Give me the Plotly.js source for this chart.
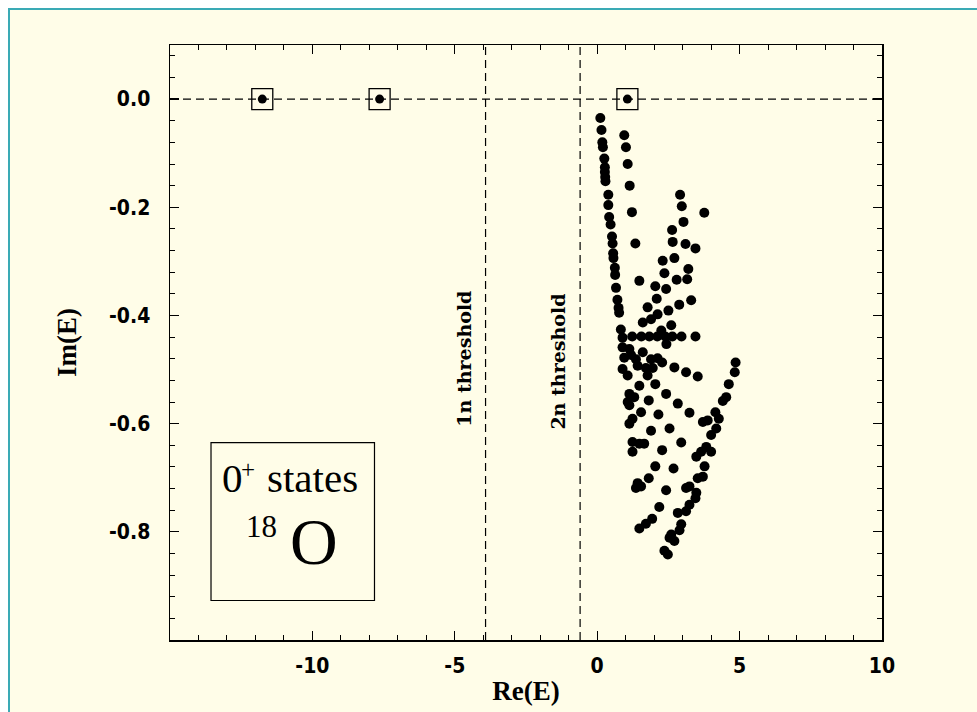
<!DOCTYPE html>
<html>
<head>
<meta charset="utf-8">
<script src="https://cdn.plot.ly/plotly-3.0.1.min.js"></script>
<style>
  html, body { margin: 0; padding: 0; background: #ffffff; width: 977px; height: 712px; overflow: hidden; }
  #wrap { position: absolute; left: 8px; top: 8px; width: 969px; height: 704px;
          border-left: 2px solid #3aaab5; border-top: 2px solid #3aaab5; background: #fffde8; }
  #chart { position: absolute; left: 0; top: 0; width: 967px; height: 702px; }
</style>
</head>
<body>
<div id="wrap"><div id="chart"></div></div>
<script>
// Resonance states (Re(E), Im(E))
const reE = [
  0.11,0.15,0.18,0.20,0.25,0.27,0.27,0.28,0.29,0.39,0.39,0.42,0.47,
  0.95,1.01,1.07,1.14,1.22,
  2.91,2.97,3.03,3.76,
  0.52,0.54,0.56,0.57,0.62,0.63,0.66,0.71,0.75,0.77,0.83,0.89,
  1.34,1.48,
  2.63,2.65,3.10,3.45,2.71,2.30,2.36,3.20,2.79,3.16,2.04,2.42,2.09,3.30,2.88,1.77,2.50,2.12,1.89,1.60,2.60,2.25,
  1.23,1.55,1.83,2.11,2.39,2.64,2.96,3.45,
  2.43,0.89,1.13,0.95,1.19,1.60,1.36,1.89,2.12,2.28,2.71,3.12,3.53,0.89,1.07,1.42,1.71,1.95,1.77,1.48,
  1.13,1.07,1.13,1.30,2.04,2.42,1.81,2.83,3.24,2.15,1.54,1.24,1.13,1.89,2.54,2.95,1.24,1.48,1.24,1.65,2.28,
  4.86,4.83,4.62,4.53,4.41,4.15,4.27,3.88,3.71,4.18,4.00,3.83,3.65,3.48,4.00,
  2.04,2.68,3.77,1.81,1.42,1.36,1.54,3.53,3.71,3.24,3.12,2.42,3.48,3.45,3.24,3.12,2.83,2.18,1.93,1.71,1.48,
  2.95,2.89,2.60,2.71,2.54,2.36,2.48
];
const imE = [
  -0.035,-0.057,-0.080,-0.089,-0.110,-0.126,-0.135,-0.144,-0.152,-0.177,-0.196,-0.218,-0.232,
  -0.067,-0.089,-0.120,-0.160,-0.209,
  -0.177,-0.198,-0.227,-0.210,
  -0.254,-0.267,-0.285,-0.294,-0.312,-0.325,-0.349,-0.371,-0.386,-0.395,-0.426,-0.441,
  -0.267,-0.336,
  -0.242,-0.264,-0.268,-0.276,-0.294,-0.299,-0.322,-0.314,-0.334,-0.333,-0.346,-0.351,-0.369,-0.372,-0.380,-0.385,-0.391,-0.398,-0.407,-0.413,-0.418,-0.428,
  -0.439,-0.439,-0.439,-0.439,-0.439,-0.439,-0.439,-0.439,
  -0.453,-0.459,-0.462,-0.478,-0.473,-0.468,-0.481,-0.481,-0.479,-0.487,-0.496,-0.505,-0.513,-0.499,-0.511,-0.493,-0.497,-0.497,-0.511,-0.530,
  -0.545,-0.560,-0.566,-0.551,-0.527,-0.545,-0.557,-0.563,-0.580,-0.583,-0.579,-0.591,-0.600,-0.613,-0.609,-0.635,-0.634,-0.637,-0.652,-0.637,-0.649,
  -0.487,-0.505,-0.527,-0.551,-0.558,-0.579,-0.591,-0.594,-0.597,-0.609,-0.621,-0.643,-0.652,-0.661,-0.652,
  -0.679,-0.683,-0.679,-0.701,-0.710,-0.719,-0.716,-0.701,-0.698,-0.716,-0.719,-0.723,-0.728,-0.738,-0.750,-0.762,-0.765,-0.754,-0.776,-0.785,-0.794,
  -0.786,-0.797,-0.805,-0.817,-0.811,-0.835,-0.842
];
// Bound states (boxed)
const boundRe = [-11.76, -7.64, 1.06];
const boundIm = [0, 0, 0];
// Thresholds
const thresholdRe = [-3.92, -0.60];
const thresholdLabels = ['1n threshold', '2n threshold'];
// Ticks
const xTickVals = [-10, -5, 0, 5, 10];
const xTickText = ['-10', '-5', '0', '5', '10'];
const yTickVals = [0, -0.2, -0.4, -0.6, -0.8];
const yTickText = ['0.0', '-0.2', '-0.4', '-0.6', '-0.8'];

const tickFont = {family: 'DejaVu Sans Condensed, DejaVu Sans', size: 21, color: '#000', weight: 'bold'};
const titleFont = {family: 'Liberation Serif', size: 27, color: '#000', weight: 'bold'};
const boxFont = {family: 'Liberation Serif', color: '#000'};

const traces = [
  {x: reE, y: imE, type: 'scatter', mode: 'markers',
   marker: {color: '#000', size: 10, symbol: 'circle'}},
  {x: boundRe, y: boundIm, type: 'scatter', mode: 'markers',
   marker: {color: '#000', size: 9, symbol: 'circle'}},
  {x: boundRe, y: boundIm, type: 'scatter', mode: 'markers',
   marker: {color: '#000', size: 21, symbol: 'square-open', line: {color: '#000', width: 1.3}}}
];

const dashStyle = {color: '#000', width: 1.2, dash: '8px,5px'};
const shapes = [
  {type: 'line', xref: 'paper', yref: 'y', x0: 0, x1: 1, y0: 0, y1: 0, line: dashStyle, layer: 'below'}
];
thresholdRe.forEach(v => shapes.push(
  {type: 'line', xref: 'x', yref: 'paper', x0: v, x1: v, y0: 0, y1: 1, line: dashStyle, layer: 'below'}));
shapes.push({type: 'rect', xref: 'x', yref: 'y', x0: -13.56, x1: -7.82, y0: -0.927, y1: -0.635,
  line: {color: '#000', width: 1.2}, fillcolor: 'rgba(0,0,0,0)'});

function ann(text, x, y, size, extra) {
  return Object.assign({text: text, xref: 'x', yref: 'y', x: x, y: y, showarrow: false,
    xanchor: 'center', yanchor: 'middle', font: Object.assign({}, boxFont, {size: size})}, extra || {});
}

const annotations = [
  {text: thresholdLabels[0], xref: 'x', yref: 'y', x: -4.68, y: -0.48, showarrow: false,
   textangle: -90, xanchor: 'center', yanchor: 'middle',
   font: {family: 'DejaVu Serif', size: 19, color: '#000', weight: 'bold'}},
  {text: thresholdLabels[1], xref: 'x', yref: 'y', x: -1.37, y: -0.485, showarrow: false,
   textangle: -90, xanchor: 'center', yanchor: 'middle',
   font: {family: 'DejaVu Serif', size: 19, color: '#000', weight: 'bold'}},
  ann('0', -12.82, -0.70, 41),
  ann('+', -12.27, -0.685, 25),
  ann('states', -10.0, -0.70, 41),
  ann('18', -11.77, -0.79, 31),
  ann('O', -9.93, -0.818, 66)
];

const axisCommon = {
  showgrid: false, zeroline: false, showline: true, linecolor: '#000', linewidth: 1.5,
  mirror: 'allticks', ticks: 'inside', ticklen: 9, tickwidth: 1.2, tickcolor: '#000',
  tickmode: 'array', tickfont: tickFont, fixedrange: true, automargin: false
};

const layout = {
  width: 967, height: 702,
  margin: {l: 160, r: 95, t: 35, b: 72},
  paper_bgcolor: '#fffde8', plot_bgcolor: '#fffde8',
  showlegend: false,
  xaxis: Object.assign({}, axisCommon, {
    range: [-15, 10], tickvals: xTickVals, ticktext: xTickText, ticklabelstandoff: 6,
    title: {text: 'Re(E)', font: titleFont, standoff: 4},
    minor: {tickmode: 'linear', tick0: 0, dtick: 1, ticks: 'inside', ticklen: 5, tickcolor: '#000', tickwidth: 1}
  }),
  yaxis: Object.assign({}, axisCommon, {
    range: [-1.0, 0.1], tickvals: yTickVals, ticktext: yTickText, ticklabelstandoff: 14,
    title: {text: 'Im(E)', font: titleFont, standoff: 24},
    minor: {tickmode: 'linear', tick0: 0, dtick: 0.04, ticks: 'inside', ticklen: 5, tickcolor: '#000', tickwidth: 1}
  }),
  shapes: shapes,
  annotations: annotations
};

Plotly.newPlot('chart', traces, layout, {displayModeBar: false, staticPlot: true});
</script>
</body>
</html>
